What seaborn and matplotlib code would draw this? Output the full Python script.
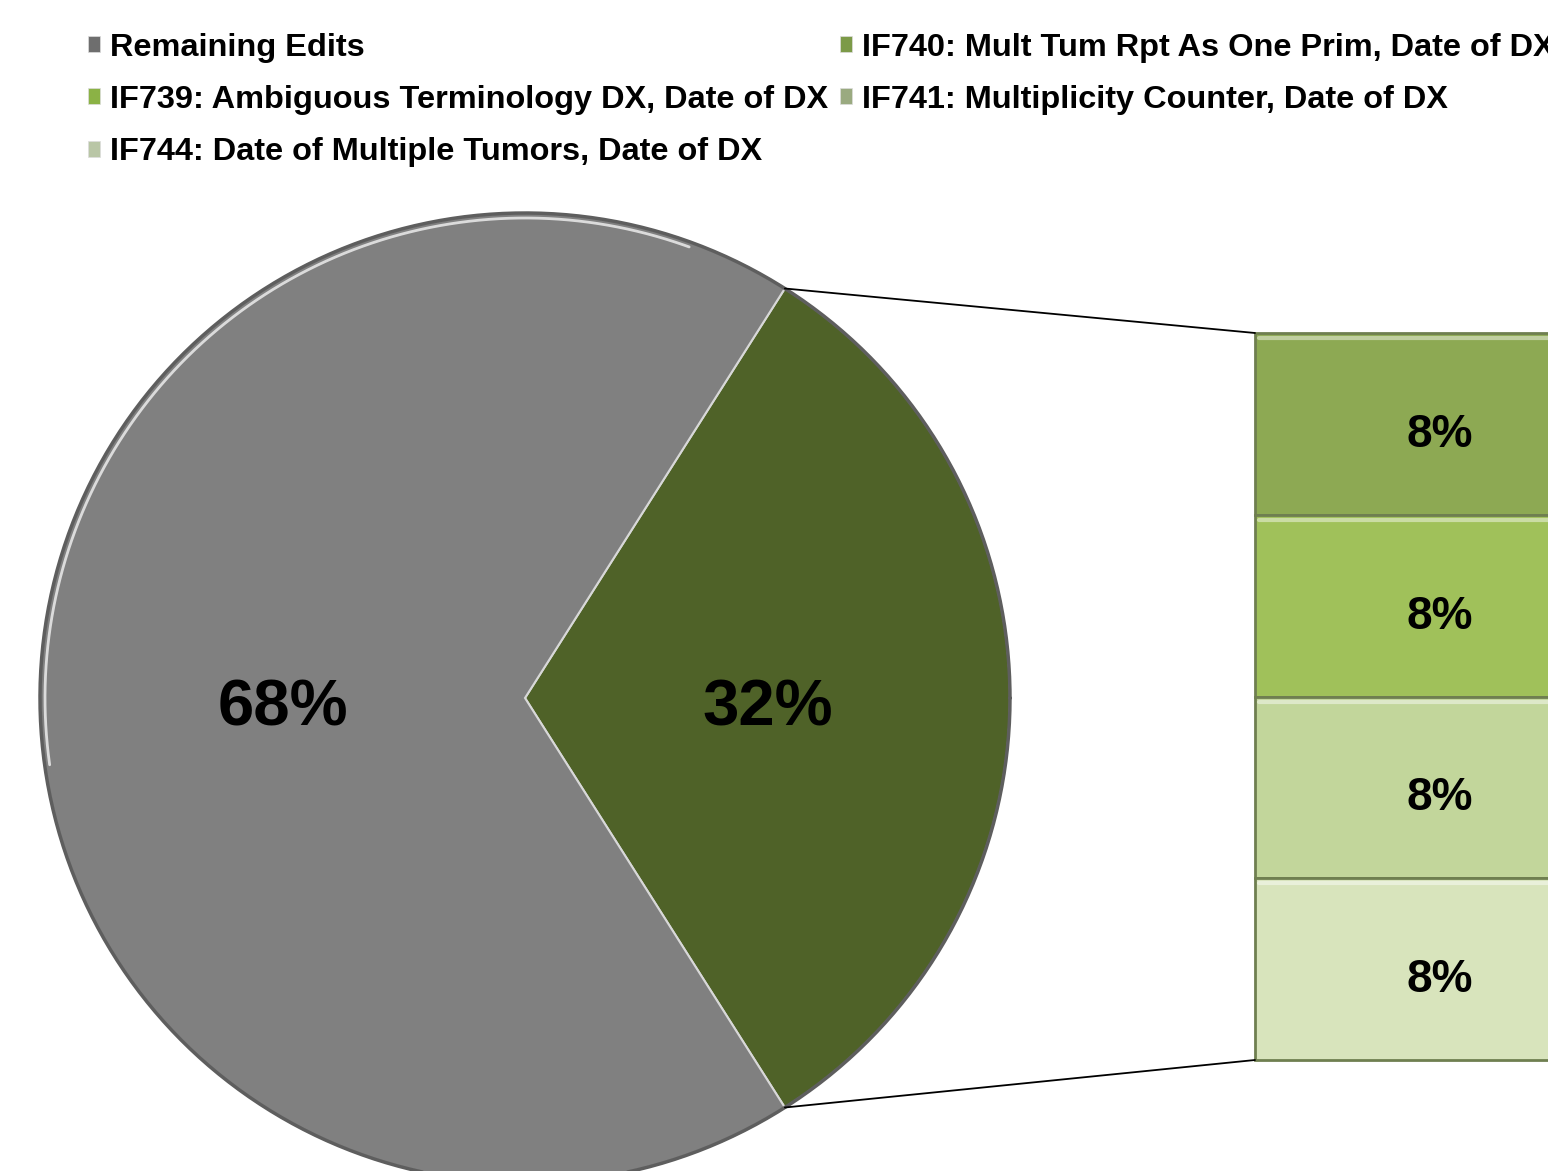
import numpy as np
import matplotlib
matplotlib.use("Agg")
import matplotlib.pyplot as plt
import seaborn as sns
from matplotlib.patches import Patch

# Data
pie_labels = ["IF739-IF744 Edits", "Remaining Edits"]
pie_values = [32, 68]
pie_colors = ["#4F6228", "#808080"]

bar_labels = ["IF740: Mult Tum Rpt As One Prim, Date of DX",
              "IF739: Ambiguous Terminology DX, Date of DX",
              "IF741: Multiplicity Counter, Date of DX",
              "IF744: Date of Multiple Tumors, Date of DX"]
bar_values = [8, 8, 8, 8]
bar_colors = ["#8DA953", "#A0C15A", "#C2D69B", "#D8E4BC"]

legend_order = ["Remaining Edits",
                "IF739: Ambiguous Terminology DX, Date of DX",
                "IF744: Date of Multiple Tumors, Date of DX",
                "IF740: Mult Tum Rpt As One Prim, Date of DX",
                "IF741: Multiplicity Counter, Date of DX"]
legend_colors = {"Remaining Edits": "#6E6E6E",
                 "IF739: Ambiguous Terminology DX, Date of DX": "#8BB245",
                 "IF744: Date of Multiple Tumors, Date of DX": "#B9C6A6",
                 "IF740: Mult Tum Rpt As One Prim, Date of DX": "#7C9A48",
                 "IF741: Multiplicity Counter, Date of DX": "#9AAA80"}

sns.set_theme(style="white")
plt.rcParams['font.family'] = ['Liberation Sans', 'DejaVu Sans']

W, H = 1548, 1171
fig = plt.figure(figsize=(W / 100, H / 100), dpi=100)
ax = fig.add_axes([0, 0, 1, 1])

# pie
cx, cy, r = 525, 698, 485
half = pie_values[0] / sum(pie_values) * 180.0
wedges, texts, autotexts = ax.pie(
    pie_values, colors=pie_colors, center=(cx, cy), radius=r,
    startangle=-half, autopct="%.0f%%", pctdistance=0.5,
    wedgeprops=dict(edgecolor="#D8D8D8", linewidth=1.5),
    textprops=dict(fontsize=47, fontweight="bold", color="black"),
    frame=True)
for t in autotexts:
    t.set_y(t.get_position()[1] + 11)
ax.set_xlim(0, W)
ax.set_ylim(H, 0)
ax.set_aspect("equal")
ax.axis("off")

# rim shading: dark outline, light highlight on the upper left
theta = np.linspace(0, 2 * np.pi, 720)
ax.plot(cx + r * np.cos(theta), cy + r * np.sin(theta), color="#5E5E5E", lw=2.5)
arc = np.radians(np.linspace(172, 290, 200))
ax.plot(cx + (r - 5) * np.cos(arc), cy + (r - 5) * np.sin(arc),
        color="#E6E6E6", lw=2, alpha=0.9)

# bar of pie
bar_top, bar_bottom = 333, 1060
scale = (bar_bottom - bar_top) / sum(bar_values)
bar_x, bar_w = 1440, 370
bottoms = bar_top + np.concatenate([[0], np.cumsum(bar_values)[:-1]]) * scale
heights = np.array(bar_values) * scale
ax.bar(bar_x, heights, bottom=bottoms, width=bar_w, color=bar_colors,
       edgecolor="#6F7F50", linewidth=2)
# light bevel on top of each segment
for b in bottoms:
    ax.plot([bar_x - bar_w / 2 + 4, bar_x + bar_w / 2], [b + 5, b + 5],
            color="white", lw=3, alpha=0.45)
for b, h, v in zip(bottoms, heights, bar_values):
    ax.text(bar_x, b + h / 2 + 11, f"{v}%", ha="center", va="center",
            fontsize=33, fontweight="bold", color="black")

# connector lines
px = cx + r * np.cos(np.radians(half))
py_top = cy - r * np.sin(np.radians(half))
py_bot = cy + r * np.sin(np.radians(half))
left = bar_x - bar_w / 2
ax.plot([px, left], [py_top, bar_top], color="black", lw=1.3)
ax.plot([px, left], [py_bot, bar_bottom], color="black", lw=1.3)

# legend
handles = [Patch(facecolor=legend_colors[k], edgecolor="#DDDDDD", lw=0.5) for k in legend_order]
fig.legend(handles, legend_order, ncol=2, loc="upper left",
           bbox_to_anchor=(88 / W, 1 - 33 / H), frameon=False,
           prop=dict(size=23.4, weight="bold"), labelcolor="black",
           handlelength=0.38, handleheight=0.38,
           handletextpad=0.3, columnspacing=0.35, labelspacing=0.68,
           borderaxespad=0, borderpad=0)

fig.savefig("out.png", dpi=100)
